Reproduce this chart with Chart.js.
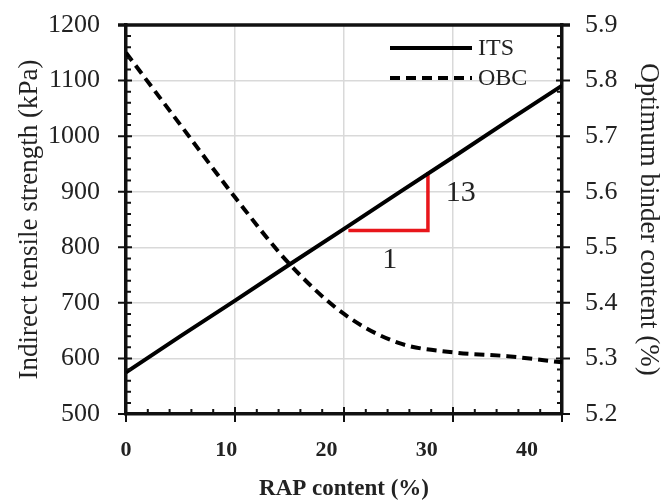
<!DOCTYPE html>
<html>
<head>
<meta charset="utf-8">
<script src="https://cdn.jsdelivr.net/npm/chart.js@4/dist/chart.umd.min.js"></script>
<style>
  body { margin: 0; background: #fff; }
  #wrap { width: 662px; height: 502px; }
</style>
</head>
<body>
<div id="wrap"><canvas id="chart" width="662" height="502"></canvas></div>
<script>
// Values
const rapContent = [0, 5, 10, 15, 20, 25, 30, 35, 40];
const itsValues = [575, 640, 704, 769, 833, 898, 962, 1027, 1091];          // kPa
const obcValues = [5.85, 5.72, 5.59, 5.47, 5.38, 5.328, 5.311, 5.304, 5.293]; // %
const slopeX = [20.4, 27.7, 27.7];
const slopeY = [830, 830, 935];
const slopeLabels = ['1', '13'];
const slopeLabelX = [24.2, 30.7];
const slopeLabelY = [776, 898];

const serif = "'Liberation Serif', 'DejaVu Serif', serif";
const textColor = '#222';
const gridColor = '#d9d9d9';

function toPoints(xs, ys) {
    return xs.map((x, i) => ({ x: x, y: ys[i] }));
}

// Draw inside minor ticks and crossing major ticks along an axis
function markAxis(ctx, scale, minorStep, majorStep, drawOne) {
    const n = Math.round((scale.max - scale.min) / minorStep);
    for (let i = 0; i <= n; i++) {
        const v = scale.min + i * minorStep;
        const major = Math.abs(v / majorStep - Math.round(v / majorStep)) < 1e-6;
        drawOne(scale.getPixelForValue(v), major);
    }
}

const axisTicks = {
    id: 'axisTicks',
    afterDraw(chart) {
        const ctx = chart.ctx;
        const { left, right, top, bottom } = chart.chartArea;
        ctx.save();
        ctx.strokeStyle = '#111';
        ctx.lineCap = 'butt';

        // top frame line
        ctx.lineWidth = 3.5;
        ctx.beginPath();
        ctx.moveTo(left - 8, top);
        ctx.lineTo(right + 8, top);
        ctx.stroke();

        ctx.lineWidth = 2;
        ctx.beginPath();
        markAxis(ctx, chart.scales.x, 2, 10, (p, major) => {
            ctx.moveTo(p, major ? bottom + 8 : bottom);
            ctx.lineTo(p, major ? bottom - 7 : bottom - 5);
        });
        markAxis(ctx, chart.scales.y, 20, 100, (p, major) => {
            ctx.moveTo(major ? left - 8 : left, p);
            ctx.lineTo(major ? left + 6 : left + 5, p);
        });
        markAxis(ctx, chart.scales.y1, 0.02, 0.1, (p, major) => {
            ctx.moveTo(major ? right + 8 : right, p);
            ctx.lineTo(major ? right - 6 : right - 5, p);
        });
        ctx.stroke();

        // slope labels next to the red triangle
        const xs = chart.scales.x, ys = chart.scales.y;
        ctx.fillStyle = textColor;
        ctx.font = '30px ' + serif;
        ctx.textAlign = 'center';
        ctx.textBaseline = 'middle';
        slopeLabels.forEach((t, i) => {
            ctx.fillText(t, xs.getPixelForValue(slopeLabelX[i]), ys.getPixelForValue(slopeLabelY[i]));
        });

        // legend inside the plot, top right
        const items = chart.data.datasets.slice(0, 2);
        items.forEach((ds, i) => {
            const y = top + 23 + i * 30;
            ctx.save();
            ctx.strokeStyle = ds.borderColor;
            ctx.lineWidth = ds.borderWidth;
            ctx.setLineDash(ds.borderDash || []);
            ctx.beginPath();
            ctx.moveTo(right - 172, y);
            ctx.lineTo(right - 90, y);
            ctx.stroke();
            ctx.restore();
            ctx.fillStyle = textColor;
            ctx.font = '24px ' + serif;
            ctx.textAlign = 'left';
            ctx.fillText(ds.label, right - 84, y + 1);
        });
        ctx.restore();
    }
};

new Chart(document.getElementById('chart'), {
    type: 'line',
    data: {
        datasets: [{
            label: 'ITS',
            data: toPoints(rapContent, itsValues),
            yAxisID: 'y',
            borderColor: '#000',
            borderWidth: 4,
            pointRadius: 0,
            fill: false
        }, {
            label: 'OBC',
            data: toPoints(rapContent, obcValues),
            yAxisID: 'y1',
            borderColor: '#000',
            borderWidth: 4,
            borderDash: [10, 6],
            cubicInterpolationMode: 'monotone',
            pointRadius: 0,
            fill: false
        }, {
            label: 'slope',
            data: toPoints(slopeX, slopeY),
            yAxisID: 'y',
            borderColor: '#e8161b',
            borderWidth: 3.5,
            pointRadius: 0,
            fill: false
        }]
    },
    options: {
        responsive: false,
        animation: false,
        devicePixelRatio: 1,
        layout: { padding: { top: 25, left: 0, right: 0, bottom: 0 } },
        plugins: {
            legend: { display: false },
            tooltip: { enabled: false }
        },
        scales: {
            x: {
                type: 'linear',
                position: 'bottom',
                weight: 0,
                min: 0,
                max: 40,
                ticks: { stepSize: 10, display: false },
                grid: { color: gridColor, lineWidth: 1.5, drawTicks: false },
                border: { color: '#111', width: 3.5 },
                afterFit(scale) { scale.height = 6; }
            },
            xl: {
                type: 'linear',
                position: 'bottom',
                weight: 1,
                min: 0,
                max: 43.5,
                ticks: {
                    stepSize: 10,
                    includeBounds: false,
                    padding: 17,
                    color: textColor,
                    font: { family: serif, size: 22, weight: 'bold' }
                },
                grid: { display: false, drawTicks: false },
                border: { display: false },
                title: {
                    display: true,
                    text: 'RAP content (%)',
                    color: textColor,
                    font: { family: serif, size: 23, weight: 'bold', lineHeight: 1 },
                    padding: { top: 0, bottom: 1 }
                },
                afterFit(scale) { scale.height = 82; }
            },
            y: {
                position: 'left',
                min: 500,
                max: 1200,
                ticks: {
                    stepSize: 100,
                    padding: 26,
                    color: textColor,
                    font: { family: serif, size: 26 },
                    callback: (v) => String(v)
                },
                grid: { color: gridColor, lineWidth: 1.5, drawTicks: false },
                border: { color: '#111', width: 3.5 },
                title: {
                    display: true,
                    text: 'Indirect tensile strength (kPa)',
                    color: textColor,
                    font: { family: serif, size: 27, lineHeight: 1 },
                    padding: { top: 16, bottom: 0 }
                },
                afterFit(scale) {
                    scale.width = 126;
                    scale.paddingTop = 10;
                    scale.paddingBottom = 10;
                }
            },
            y1: {
                position: 'right',
                min: 5.2,
                max: 5.9,
                ticks: {
                    stepSize: 0.1,
                    padding: 23,
                    color: textColor,
                    font: { family: serif, size: 26 },
                    callback: (v) => Number(v).toFixed(1)
                },
                grid: { drawOnChartArea: false, drawTicks: false },
                border: { color: '#111', width: 3.5 },
                title: {
                    display: true,
                    text: 'Optimum binder content (%)',
                    color: textColor,
                    font: { family: serif, size: 27, lineHeight: 1 },
                    padding: { top: 0, bottom: 0 }
                },
                afterFit(scale) {
                    scale.width = 100;
                    scale.paddingTop = 10;
                    scale.paddingBottom = 10;
                }
            }
        }
    },
    plugins: [axisTicks]
});
</script>
</body>
</html>
